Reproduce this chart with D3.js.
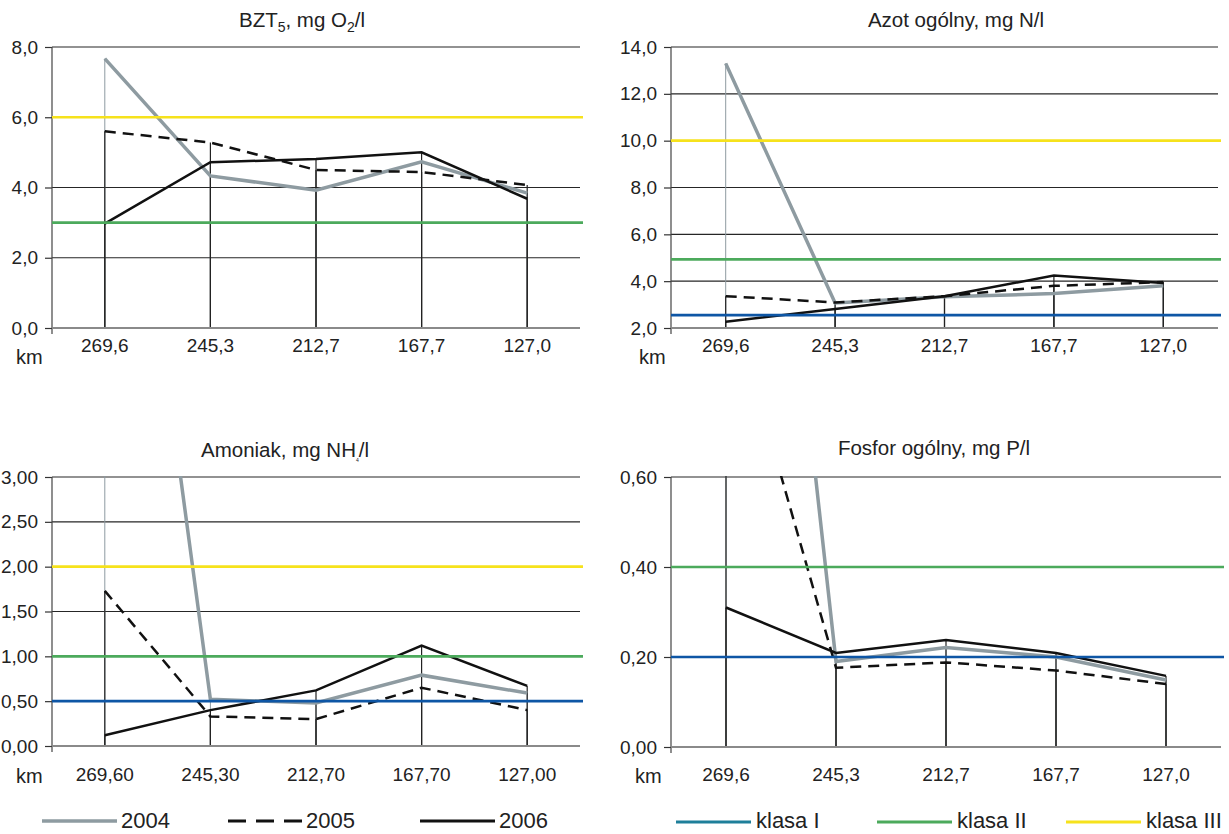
<!DOCTYPE html>
<html><head><meta charset="utf-8">
<script src="https://cdn.jsdelivr.net/npm/d3@7"></script>
<style>
html,body{margin:0;padding:0;background:#fff;}
svg{display:block;font-family:"Liberation Sans",Arial,sans-serif;}
</style></head>
<body>
<svg id="chart" width="1229" height="834"></svg>
<script>
// ---------- data ----------
const kmLabels1 = ["269,6","245,3","212,7","167,7","127,0"];
const kmLabels2 = ["269,60","245,30","212,70","167,70","127,00"];
const years = ["2004","2005","2006"];

const bzt2004 = [7.67, 4.33, 3.92, 4.73, 3.84];
const bzt2005 = [5.60, 5.28, 4.50, 4.44, 4.07];
const bzt2006 = [2.97, 4.72, 4.81, 5.00, 3.68];
const bztTicks = [0, 2, 4, 6, 8];
const bztClasses = [null, 3.0, 6.0];

const azot2004 = [13.30, 3.07, 3.33, 3.47, 3.80];
const azot2005 = [3.36, 3.09, 3.36, 3.80, 3.96];
const azot2006 = [2.27, 2.81, 3.36, 4.24, 3.92];
const azotTicks = [2, 4, 6, 8, 10, 12, 14];
const azotClasses = [2.55, 4.93, 10.0];

const amon2004 = [9.30, 0.52, 0.48, 0.79, 0.59];
const amon2005 = [1.73, 0.33, 0.30, 0.65, 0.40];
const amon2006 = [0.12, 0.40, 0.62, 1.12, 0.67];
const amonTicks = [0, 0.5, 1.0, 1.5, 2.0, 2.5, 3.0];
const amonClasses = [0.5, 1.0, 2.0];

const fosf2004 = [2.40, 0.190, 0.221, 0.200, 0.149];
const fosf2005 = [1.03, 0.176, 0.188, 0.170, 0.140];
const fosf2006 = [0.31, 0.209, 0.238, 0.209, 0.158];
const fosfTicks = [0, 0.2, 0.4, 0.6];
const fosfClasses = [0.2, 0.4, null];

const classNames = ["klasa I", "klasa II", "klasa III"];

// ---------- styles ----------
const yearStyle = [
  {color:"#8e9ba1", width:3.5, dash:null, drop:"#8e9ba1"},
  {color:"#111111", width:2.5, dash:"11,7", drop:"#222"},
  {color:"#111111", width:2.5, dash:null, drop:"#222"}
];
const classColor = ["#0e56a5", "#4caa5c", "#f6e21c"];
const legendClassColor = ["#1e7f9a", "#4caa5c", "#f6e21c"];

const svg = d3.select("#chart");
const defs = svg.append("defs");

const panels = [
  {id:"p1", title:[["BZT",0],["5",1],[", mg O",0],["2",1],["/l",0]], tx:302, ty:27,
   cats:kmLabels1, series:[bzt2004,bzt2005,bzt2006], ticks:bztTicks, fmt:",.1f", classes:bztClasses,
   x0:52, x1:580, y0:47, y1:328, labY:352, kmX:16, kmY:364},
  {id:"p2", title:[["Azot ogólny, mg N/l",0]], tx:956, ty:27,
   cats:kmLabels1, series:[azot2004,azot2005,azot2006], ticks:azotTicks, fmt:",.1f", classes:azotClasses,
   x0:671, x1:1218, y0:47, y1:328, labY:352, kmX:639, kmY:364},
  {id:"p3", title:[["Amoniak, mg NH",0],["4",2],["/l",0]], tx:285, ty:457,
   cats:kmLabels2, series:[amon2004,amon2005,amon2006], ticks:amonTicks, fmt:",.2f", classes:amonClasses,
   x0:52, x1:580, y0:477, y1:746, labY:781, kmX:16, kmY:783},
  {id:"p4", title:[["Fosfor ogólny, mg P/l",0]], tx:934, ty:455,
   cats:kmLabels1, series:[fosf2004,fosf2005,fosf2006], ticks:fosfTicks, fmt:",.2f", classes:fosfClasses,
   x0:671, x1:1221, y0:477, y1:747, labY:781, kmX:635, kmY:783}
];

function plFmt(spec){ const f = d3.format(spec); return v => f(v).replace(".", ","); }

panels.forEach(p => {
  const x = d3.scaleBand().domain(p.cats).range([p.x0, p.x1]).padding(0);
  const y = d3.scaleLinear().domain([p.ticks[0], p.ticks[p.ticks.length-1]]).range([p.y1, p.y0]);
  const cx = d => x(d) + x.bandwidth()/2;
  const g = svg.append("g");

  defs.append("clipPath").attr("id", "clip-"+p.id)
    .append("rect").attr("x", p.x0).attr("y", p.y0 - 1).attr("width", p.x1 - p.x0 + 4).attr("height", p.y1 - p.y0 + 2);

  // title
  const t = g.append("text").attr("x", p.tx).attr("y", p.ty).attr("text-anchor", "middle")
    .attr("font-size", 20.5).attr("fill", "#222");
  p.title.forEach(([s, sub]) => {
    const ts = t.append("tspan").text(s);
    if (sub === 1) ts.attr("font-size", 14).attr("dy", 5);
    else if (sub === 2) ts.attr("font-size", 5).attr("dy", 5);
    else if (t.selectAll("tspan").size() > 1) ts.attr("dy", -5);
  });

  // gridlines
  g.append("g").selectAll("line").data(p.ticks.slice(1)).join("line")
    .attr("x1", p.x0).attr("x2", p.x1).attr("y1", d => y(d)).attr("y2", d => y(d))
    .attr("stroke", "#262626").attr("stroke-width", 1.2);

  // y axis
  const yAxis = d3.axisLeft(y).tickValues(p.ticks).tickFormat(plFmt(p.fmt)).tickSize(7).tickPadding(7);
  const ya = g.append("g").attr("transform", `translate(${p.x0},0)`).call(yAxis);
  ya.select(".domain").remove();
  ya.selectAll(".tick line").attr("stroke", "#333").attr("stroke-width", 1.2);
  ya.selectAll(".tick text").attr("font-size", 19).attr("fill", "#222").attr("font-family", "Liberation Sans, Arial, sans-serif");
  g.append("line").attr("x1", p.x0).attr("x2", p.x0).attr("y1", p.y0).attr("y2", p.y1 + 6)
    .attr("stroke", "#444").attr("stroke-width", 1.2);

  // x axis labels
  const xAxis = d3.axisBottom(x).tickSize(0).tickPadding(0);
  const xa = g.append("g").attr("transform", `translate(0,${p.labY})`).call(xAxis);
  xa.select(".domain").remove();
  xa.selectAll(".tick text").attr("dy", 0).attr("font-size", 19).attr("fill", "#222")
    .attr("font-family", "Liberation Sans, Arial, sans-serif");
  g.append("text").attr("x", p.kmX).attr("y", p.kmY).attr("font-size", 20).attr("fill", "#222").text("km");

  const plot = g.append("g").attr("clip-path", `url(#clip-${p.id})`);

  // drop lines
  p.series.forEach((vals, i) => {
    plot.append("g").selectAll("line").data(vals).join("line")
      .attr("x1", (d, j) => cx(p.cats[j])).attr("x2", (d, j) => cx(p.cats[j]))
      .attr("y1", p.y1).attr("y2", d => y(d))
      .attr("stroke", yearStyle[i].drop).attr("stroke-width", i === 0 ? 1 : 1.2);
  });

  // class threshold lines
  p.classes.forEach((v, i) => {
    if (v === null) return;
    g.append("line").attr("x1", p.x0).attr("x2", p.x1 + 3).attr("y1", y(v)).attr("y2", y(v))
      .attr("stroke", classColor[i]).attr("stroke-width", 2.6);
  });

  // x baseline
  g.append("line").attr("x1", p.x0).attr("x2", p.x1).attr("y1", p.y1).attr("y2", p.y1)
    .attr("stroke", "#8a8a8a").attr("stroke-width", 2);

  // series
  const line = d3.line().x((d, j) => cx(p.cats[j])).y(d => y(d));
  p.series.forEach((vals, i) => {
    const s = yearStyle[i];
    plot.append("path").datum(vals).attr("d", line).attr("fill", "none")
      .attr("stroke", s.color).attr("stroke-width", s.width)
      .attr("stroke-dasharray", s.dash).attr("stroke-linejoin", "miter");
  });
});

// ---------- legends ----------
const legY = 821, legTextY = 828;
const legYear = [
  {x1:42, x2:117, tx:121},
  {x1:228, x2:302, tx:306},
  {x1:420, x2:495, tx:499}
];
legYear.forEach((l, i) => {
  const s = yearStyle[i];
  svg.append("line").attr("x1", l.x1).attr("x2", l.x2).attr("y1", legY).attr("y2", legY)
    .attr("stroke", s.color).attr("stroke-width", i === 0 ? 3.5 : 2.8).attr("stroke-dasharray", s.dash ? "18,10" : null);
  svg.append("text").attr("x", l.tx).attr("y", legTextY).attr("font-size", 22).attr("fill", "#222").text(years[i]);
});
const legClass = [
  {x1:676, x2:751, tx:756},
  {x1:877, x2:952, tx:957},
  {x1:1066, x2:1141, tx:1146}
];
legClass.forEach((l, i) => {
  svg.append("line").attr("x1", l.x1).attr("x2", l.x2).attr("y1", legY + 1).attr("y2", legY + 1)
    .attr("stroke", legendClassColor[i]).attr("stroke-width", 3);
  svg.append("text").attr("x", l.tx).attr("y", legTextY).attr("font-size", 22).attr("fill", "#222").text(classNames[i]);
});
</script>
</body></html>
